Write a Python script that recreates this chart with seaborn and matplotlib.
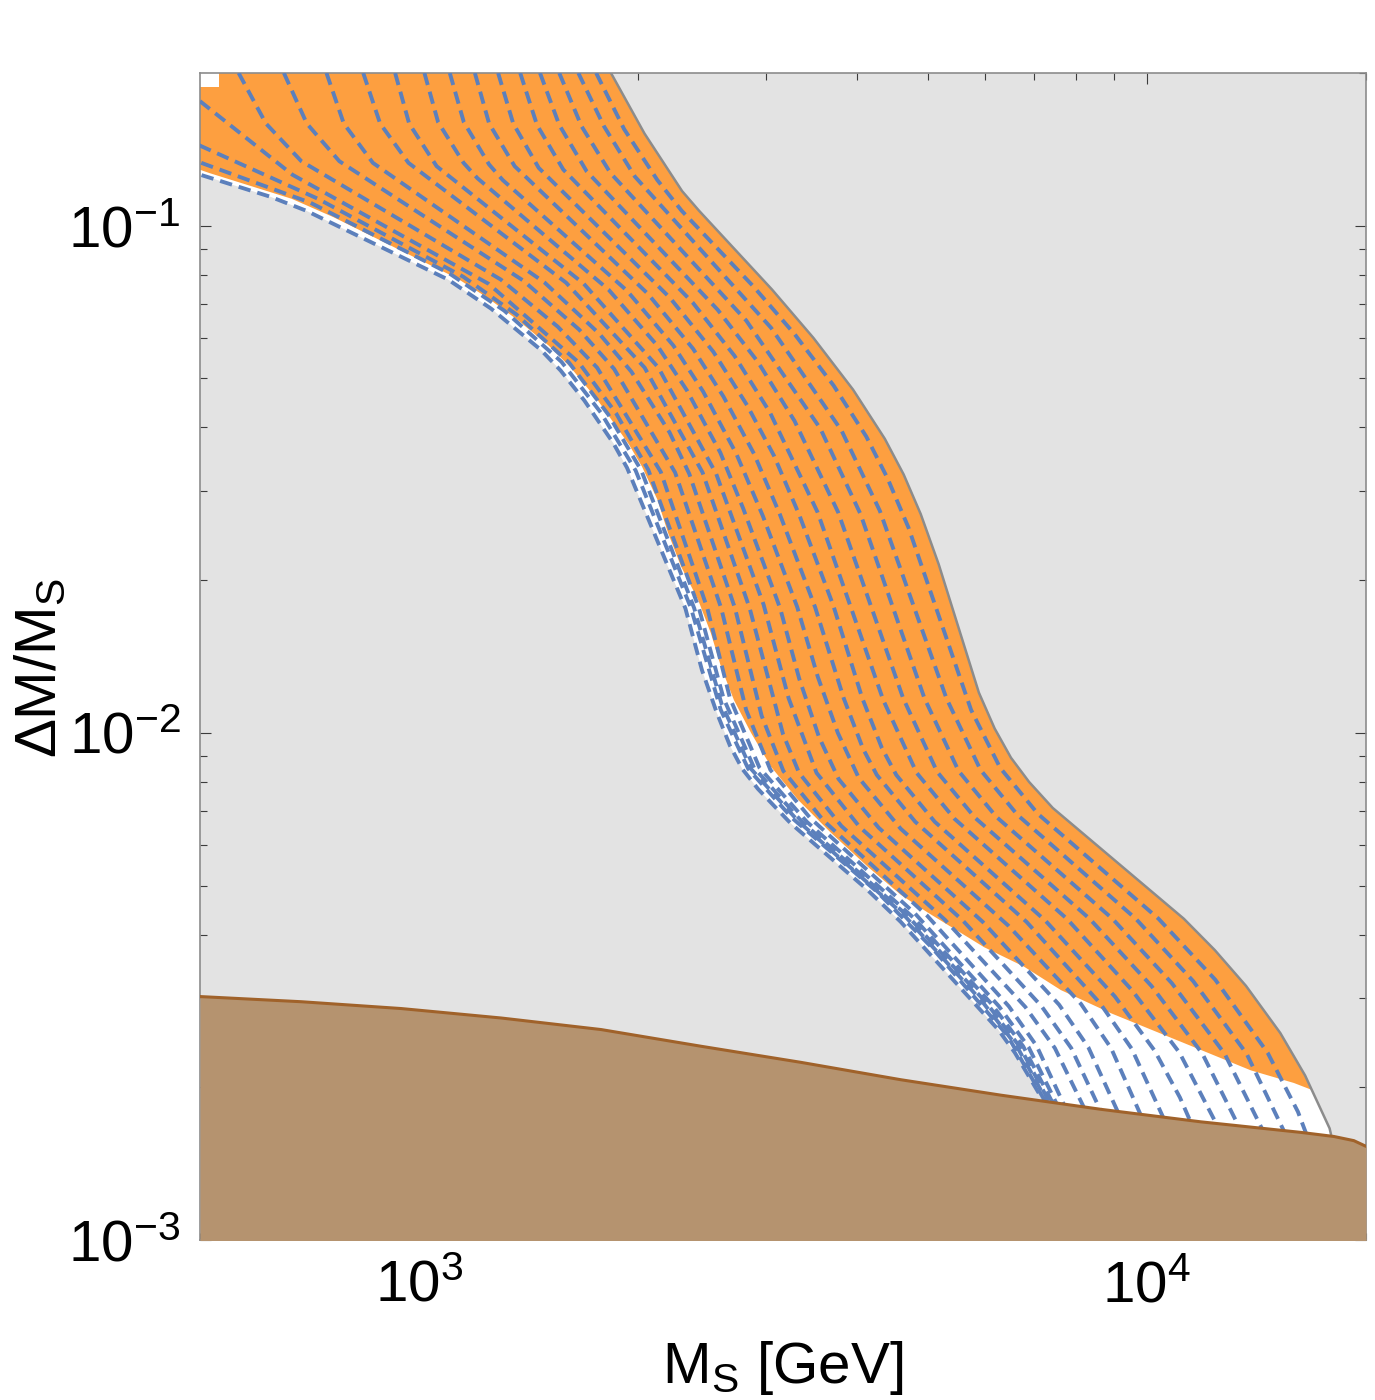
import numpy as np
import pandas as pd
import matplotlib
matplotlib.use("Agg")
import matplotlib.pyplot as plt
import seaborn as sns

# grey boundary of the allowed band (upper right edge)
gray_ms = [1835, 2040, 2298, 2425, 3055, 3481, 3947, 4364, 4633, 4889, 5175, 5877, 6177, 6505, 6889, 7424,
           11239, 12395, 13682, 15248, 16497, 17825, 18296]
gray_dm = [0.2, 0.152, 0.117, 0.107, 0.0748, 0.0601, 0.0475, 0.038, 0.0323, 0.027, 0.0215, 0.012, 0.0102,
           0.00893, 0.008, 0.00711, 0.0043, 0.00373, 0.00317, 0.00256, 0.00211, 0.00166, 0.00141]

# lower-left edge of the dashed family
edge_ms = [194, 492, 625, 700, 1096, 1256, 1470, 1565, 1687, 1850, 1931, 2322, 2447, 2562, 2674, 2780, 2922,
           3237, 4119, 4589, 6246, 6586, 7208, 7494, 7618]
edge_dm = [0.2, 0.127, 0.114, 0.107, 0.0783, 0.0686, 0.0569, 0.0518, 0.0452, 0.0372, 0.0333, 0.0176, 0.0133,
           0.011, 0.00943, 0.00849, 0.00775, 0.00664, 0.00492, 0.00424, 0.0026, 0.00234, 0.00188, 0.00161, 0.00141]

# lower edge of the orange region
orange_ms = [208, 515, 668, 762, 1130, 1241, 1369, 1507, 1612, 1761, 1943, 2024, 2126, 2198, 2290, 2417, 2518,
             2599, 2708, 2858, 3045, 3316, 3681, 4138, 4593, 5002, 5972, 6777, 7618, 8924, 10127, 11862, 13895,
             15919, 16799]
orange_dm = [0.2, 0.127, 0.113, 0.104, 0.0786, 0.0721, 0.065, 0.058, 0.0527, 0.0452, 0.037, 0.0335, 0.0288,
             0.0248, 0.0213, 0.0183, 0.0157, 0.0135, 0.0116, 0.01, 0.00857, 0.00738, 0.00635, 0.00544, 0.00479,
             0.00442, 0.00378, 0.00346, 0.00311, 0.0028, 0.0026, 0.00237, 0.00216, 0.00204, 0.00198]

# brown excluded region at small splitting
brown_ms = [500, 689, 945, 1296, 1778, 2440, 3348, 4593, 6302, 8646, 11862, 16276, 18066, 19246, 20000]
brown_dm = [0.00302, 0.00295, 0.00286, 0.00274, 0.0026, 0.00241, 0.00224, 0.00207, 0.00193, 0.00181, 0.00171,
            0.00163, 0.0016, 0.00157, 0.00153]

# small blank patch in the top left corner
corner_ms = [500, 531]
corner_dm = [0.188, 0.2]

# dashed contours
curve_ms = [
    [1751, 1913, 2125, 2295, 2882, 3284, 3711, 4115, 4400, 4703, 5733, 6286, 7084, 10374, 12415, 14651, 16125, 16635],
    [1655, 1795, 1979, 3045, 3807, 4296, 5303, 5907, 6639, 9654, 11575, 13708, 15555],
    [1558, 1672, 1832, 2815, 3559, 4041, 4947, 5511, 6210, 8967, 10819, 12787, 14506],
    [1466, 1558, 1699, 2571, 2920, 3280, 3766, 4625, 5149, 5806, 8341, 10143, 11919, 13501],
    [1377, 1452, 1578, 2377, 2712, 3035, 3529, 4343, 4826, 5440, 7762, 9535, 11088, 12551],
    [1284, 1347, 1460, 2211, 2537, 2824, 3073, 3329, 3709, 4064, 4323, 4525, 5110, 7256, 9038, 10252, 11101, 11544],
    [1193, 1248, 1353, 2062, 2379, 2620, 2885, 3130, 3500, 3832, 4074, 4255, 4804, 6832, 8622, 9536, 10616],
    [1102, 1152, 1248, 1303, 1931, 2236, 2456, 2728, 2966, 3308, 3530, 3761, 4019, 4589, 6459, 8118, 8928, 9883],
    [1017, 1062, 1151, 1203, 1821, 2125, 2334, 2593, 2788, 3134, 3328, 3543, 3770, 4280, 5948, 7575, 8307, 9186],
    [927, 969, 1057, 1684, 2132, 2560, 2974, 3219, 3516, 4027, 5590, 7165, 7871, 8698],
    [838, 884, 967, 1592, 2041, 2452, 2846, 3162, 3327, 3804, 5278, 6808, 7474, 8248],
    [746, 788, 864, 1488, 1769, 1958, 2209, 2351, 2717, 2956, 3166, 3596, 4989, 6460, 7059, 7758],
    [652, 701, 777, 1391, 1659, 1853, 2248, 2601, 2814, 3039, 3444, 4804, 6261, 6878, 7582],
    [565, 616, 689, 1295, 1551, 1756, 2148, 2489, 2674, 2936, 3409, 4794, 6117, 6760, 7486],
    [500, 670, 1246, 1658, 1866, 2065, 2424, 2620, 2886, 3357, 4703, 6035, 6694, 7421],
    [499, 726, 1150, 1361, 1607, 1820, 2020, 2388, 2604, 2858, 3324, 4632, 5964, 6626, 7360],
    [502, 709, 1102, 1309, 1569, 1777, 1984, 2364, 2597, 2833, 3252, 4271, 5066, 6433, 7321],
]
curve_dm = [
    [0.2, 0.155, 0.123, 0.107, 0.0758, 0.061, 0.0484, 0.0384, 0.0318, 0.0254, 0.0111, 0.00853, 0.00692, 0.0043,
     0.00326, 0.00234, 0.00179, 0.00159],
    [0.2, 0.157, 0.125, 0.0629, 0.0394, 0.0274, 0.0117, 0.00845, 0.00689, 0.0043, 0.00324, 0.00233, 0.0016],
    [0.2, 0.157, 0.127, 0.065, 0.0398, 0.027, 0.0117, 0.00841, 0.00683, 0.0043, 0.00321, 0.00233, 0.00162],
    [0.2, 0.158, 0.128, 0.0683, 0.0539, 0.0412, 0.0272, 0.0117, 0.00838, 0.0068, 0.0043, 0.00317, 0.00233, 0.00163],
    [0.2, 0.158, 0.129, 0.0705, 0.0554, 0.0428, 0.0272, 0.0116, 0.00834, 0.00677, 0.0043, 0.00311, 0.00234, 0.00166],
    [0.2, 0.159, 0.13, 0.0721, 0.0564, 0.0442, 0.0352, 0.0269, 0.0178, 0.0117, 0.00934, 0.00826, 0.00668, 0.00426,
     0.00302, 0.00236, 0.00191, 0.00168],
    [0.2, 0.159, 0.131, 0.0734, 0.0572, 0.046, 0.0355, 0.027, 0.0177, 0.0117, 0.0093, 0.00826, 0.00668, 0.00424,
     0.00293, 0.00238, 0.0017],
    [0.2, 0.16, 0.132, 0.123, 0.0744, 0.058, 0.0471, 0.0355, 0.0268, 0.0177, 0.0129, 0.01, 0.00815, 0.00647,
     0.00416, 0.00292, 0.00239, 0.00172],
    [0.2, 0.16, 0.133, 0.124, 0.0748, 0.058, 0.0473, 0.0357, 0.0277, 0.0176, 0.0128, 0.00982, 0.00811, 0.0065,
     0.00424, 0.00291, 0.0024, 0.00175],
    [0.2, 0.159, 0.131, 0.0768, 0.0525, 0.0324, 0.0179, 0.0117, 0.00834, 0.00653, 0.00426, 0.00289, 0.00239, 0.00176],
    [0.2, 0.159, 0.133, 0.0772, 0.0525, 0.0326, 0.0176, 0.00995, 0.00834, 0.00655, 0.00428, 0.00288, 0.00239, 0.00179],
    [0.2, 0.159, 0.133, 0.0772, 0.0612, 0.0515, 0.0391, 0.0324, 0.0176, 0.0108, 0.00841, 0.00671, 0.00436, 0.00289,
     0.00241, 0.0018],
    [0.2, 0.159, 0.134, 0.0779, 0.0624, 0.0522, 0.0326, 0.0176, 0.0111, 0.00845, 0.0068, 0.0044, 0.00289, 0.0024,
     0.00181],
    [0.2, 0.159, 0.134, 0.0783, 0.0632, 0.0525, 0.0327, 0.0176, 0.0117, 0.00853, 0.00668, 0.0043, 0.00292, 0.00241,
     0.00182],
    [0.176, 0.126, 0.0768, 0.0537, 0.0426, 0.033, 0.0176, 0.0117, 0.00853, 0.00668, 0.00434, 0.00292, 0.0024, 0.00182],
    [0.144, 0.113, 0.0793, 0.0668, 0.0537, 0.0424, 0.0329, 0.0176, 0.0114, 0.00849, 0.00668, 0.00438, 0.00293,
     0.00241, 0.00183],
    [0.133, 0.111, 0.0804, 0.068, 0.0539, 0.0428, 0.0329, 0.0176, 0.0111, 0.00849, 0.0068, 0.00484, 0.00377, 0.00253,
     0.00183],
]

sns.set_style("ticks")
plt.rcParams["font.family"] = ["Liberation Sans", "DejaVu Sans"]
plt.rcParams["mathtext.fontset"] = "custom"
plt.rcParams["mathtext.rm"] = "Liberation Sans"
plt.rcParams["mathtext.it"] = "Liberation Sans:italic"
plt.rcParams["mathtext.default"] = "regular"

fig = plt.figure(figsize=(13.75, 14), dpi=100)
ax = fig.add_axes([200 / 1375, 160 / 1400, 1166 / 1375, 1167 / 1400])
ax.set_xscale("log")
ax.set_yscale("log")
ax.set_facecolor("#e3e3e3")

gx, gy = np.array(gray_ms), np.array(gray_dm)
ex, ey = np.array(edge_ms), np.array(edge_dm)
ox, oy = np.array(orange_ms), np.array(orange_dm)

# white band between the family edge and the grey boundary
ax.fill(np.r_[gx, ex[::-1]], np.r_[gy, ey[::-1]], color="white", lw=0, zorder=1)
# orange region on top of it
keep = gy >= oy[-1]
ax.fill(np.r_[gx[keep], ox[::-1]], np.r_[gy[keep], oy[::-1]], color="#fd9f40", lw=0, zorder=2)
ax.fill_between(corner_ms, corner_dm[0], corner_dm[1], color="white", lw=0, zorder=2.5)

# dashed family, the family edge is the innermost one
rows = []
for i, (ms, dm) in enumerate(zip(curve_ms + [edge_ms], curve_dm + [edge_dm])):
    rows += [(i, m, d) for m, d in zip(ms, dm)]
df = pd.DataFrame(rows, columns=["curve", "ms", "dm"])
sns.lineplot(data=df, x="ms", y="dm", units="curve", estimator=None, sort=False, color="#5c80bc",
             lw=2.8, linestyle=(0, (3.2, 1.8)), ax=ax, zorder=3, legend=False)

sns.lineplot(x=gx, y=gy, sort=False, estimator=None, color="#8c8c8c", lw=1.8, ax=ax, zorder=4)
ax.fill_between(brown_ms, brown_dm, 1e-4, color="#b5936f", lw=0, zorder=5)
sns.lineplot(x=brown_ms, y=brown_dm, sort=False, estimator=None, color="#a0622a", lw=2.2, ax=ax, zorder=6)

ax.set_xlim(500, 20000)
ax.set_ylim(1e-3, 0.2)
ax.tick_params(which="both", direction="in", top=True, right=True, color="#3c3c3c", width=0.8,
               labelcolor="black")
ax.tick_params(which="major", length=8, labelsize=42, pad=14)
ax.tick_params(which="minor", length=5)
for sp in ax.spines.values():
    sp.set_color("#8c8c8c")
    sp.set_linewidth(1.2)

ax.set_xlabel(r"$M_S$ [GeV]", fontsize=42, color="black")
ax.set_ylabel(r"$ΔM/M_S$", fontsize=42, color="black")
ax.xaxis.set_label_coords(0.5, -0.085)
ax.yaxis.set_label_coords(-0.113, 0.49)

fig.savefig("out.png", dpi=100)
